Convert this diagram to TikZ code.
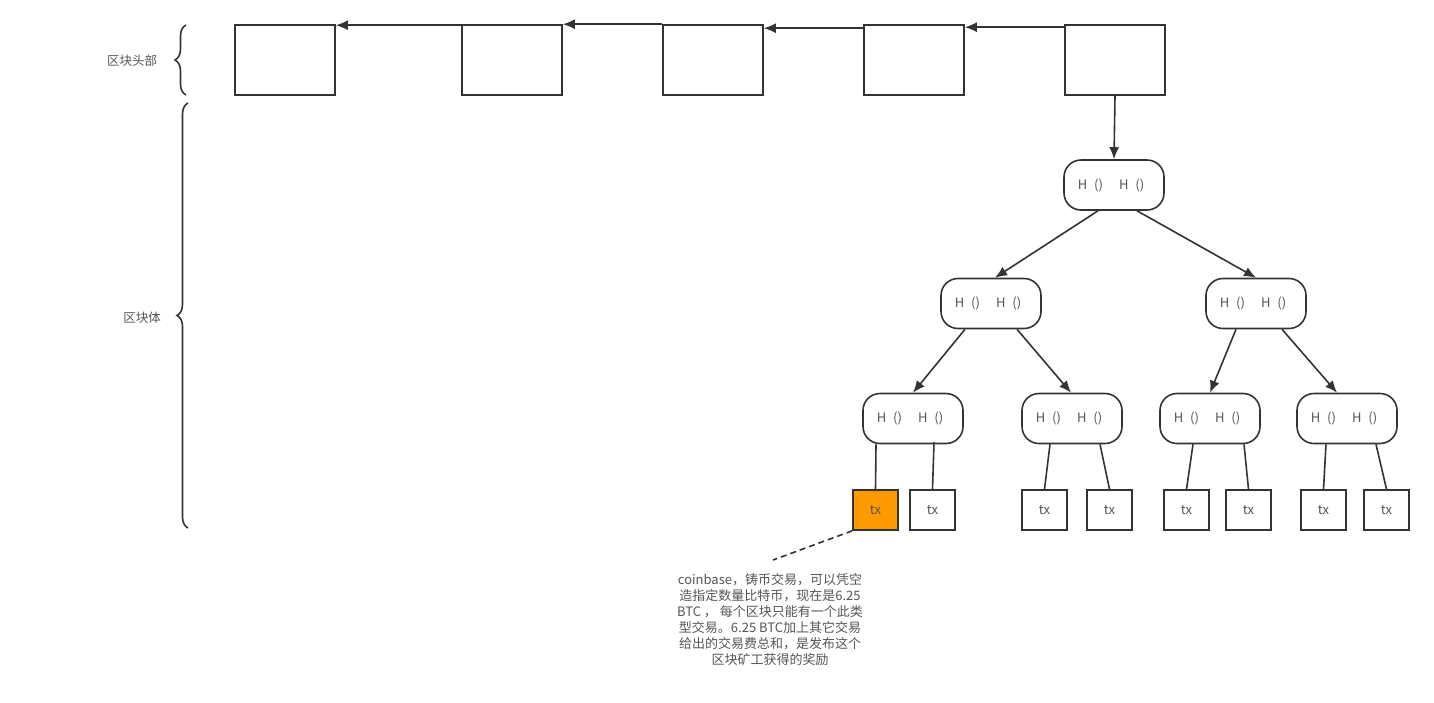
\documentclass[tikz,border=0pt]{standalone}
\usepackage{fontspec}
\setmainfont{Noto Sans CJK SC}
\usetikzlibrary{arrows.meta,decorations.pathreplacing}
\definecolor{ln}{HTML}{333333}
\definecolor{txt}{HTML}{555555}
\definecolor{coin}{HTML}{FF9900}
\newcommand{\hh}{\hspace{-6pt}H\hspace{7pt}()\hspace{16pt}H\hspace{7pt}()}

\begin{document}
\begin{tikzpicture}[x=1pt,y=-1pt]
 \tikzstyle{every node}=[text=txt,font=\fontsize{13}{15}\selectfont]
 \tikzstyle{blk} = [draw=ln,line width=1.6pt,minimum width=100pt,minimum height=70pt]
 \tikzstyle{hn} = [draw=ln,line width=1.6pt,rounded corners=17pt,minimum width=100pt,minimum height=50pt]
 \tikzstyle{tx} = [draw=ln,line width=1.6pt,minimum width=45pt,minimum height=40pt,inner sep=0pt]
 \tikzstyle{l} = [draw=ln,-{Latex[length=12pt,width=10pt]},line width=1.6pt]
 \tikzstyle{b} = [draw=ln,line width=1.6pt]
 \tikzstyle{br} = [draw=ln,line width=1.6pt,decorate,decoration={brace,amplitude=11pt}]
 \useasboundingbox (0,0) rectangle (1434,702);
 \draw
 (285,60) node[blk] (B1) {}
 (B1) ++(227,0) node[blk] (B2) {}
 (B2) ++(201,0) node[blk] (B3) {}
 (B3) ++(201,0) node[blk] (B4) {}
 (B4) ++(201,0) node[blk] (B5) {}
 (B5) ++(-1,125) node[hn] (R) {\hh}
 (R) ++(-123,118.5) node[hn] (HL) {\hh}
 (R) ++(142,118.5) node[hn] (HR) {\hh}
 (HL) ++(-78,115) node[hn] (HLL) {\hh}
 (HL) ++(81,115) node[hn] (HLR) {\hh}
 (HR) ++(-46,115) node[hn] (HRL) {\hh}
 (HR) ++(91,115) node[hn] (HRR) {\hh}
 (875.5,510) node[tx,fill=coin] (T1) {tx}
 (T1) ++(57,0) node[tx] (T2) {tx}
 (T2) ++(112,0) node[tx] (T3) {tx}
 (T3) ++(65,0) node[tx] (T4) {tx}
 (T4) ++(77,0) node[tx] (T5) {tx}
 (T5) ++(62,0) node[tx] (T6) {tx}
 (T6) ++(75,0) node[tx] (T7) {tx}
 (T7) ++(63,0) node[tx] (T8) {tx}
 (132,61) node[font=\fontsize{12.5}{14}\selectfont] (Head) {区块头部}
 (142,318) node[font=\fontsize{12.5}{14}\selectfont] (Body) {区块体}
 (770,620) node[align=center,font=\fontsize{13}{16}\selectfont] (Note) {coinbase，铸币交易，可以凭空\\造指定数量比特币，现在是6.25\\BTC ， 每个区块只能有一个此类\\型交易。6.25 BTC加上其它交易\\给出的交易费总和，是发布这个\\区块矿工获得的奖励}
 (773,560) coordinate (NoteTip)
 ;
 % block header chain
 \path [l] ([yshift=-1pt]B2.north west) -- ([yshift=-1pt]B1.north east);
 \path [l] (B3.north west) -- (B2.north east);
 \path [l] ([yshift=-4pt]B4.north west) -- ([yshift=-4pt]B3.north east);
 \path [l] ([yshift=-3pt]B5.north west) -- ([yshift=-3pt]B4.north east);
 \path [l] (B5.south) -- (R.north);
 % merkle tree
 \path [l] ([xshift=-16pt]R.south) -- ([xshift=4pt]HL.north);
 \path [l] ([xshift=23pt]R.south) -- (HR.north);
 \path [l] ([xshift=-26pt]HL.south) -- (HLL.north);
 \path [l] ([xshift=26pt]HL.south) -- ([xshift=-1pt]HLR.north);
 \path [l] ([xshift=-20pt]HR.south) -- (HRL.north);
 \path [l] ([xshift=26pt]HR.south) -- ([xshift=-10pt]HRR.north);
 \path [b] ([xshift=-37pt]HLL.south) -- (T1.north);
 \path [b] ([xshift=21pt,yshift=2pt]HLL.south) -- (T2.north);
 \path [b] ([xshift=-22pt]HLR.south) -- (T3.north);
 \path [b] ([xshift=28pt]HLR.south) -- (T4.north);
 \path [b] ([xshift=-17pt]HRL.south) -- (T5.north);
 \path [b] ([xshift=34pt]HRL.south) -- (T6.north);
 \path [b] ([xshift=-21pt]HRR.south) -- (T7.north);
 \path [b] ([xshift=29pt]HRR.south) -- (T8.north);
 \path [b,dash pattern=on 6pt off 4pt] (T1.south west) -- (NoteTip);
 % braces
 \path [br] (186,95) -- (186,25);
 \path [br] (188,528) -- (188,103);
\end{tikzpicture}
\end{document}
